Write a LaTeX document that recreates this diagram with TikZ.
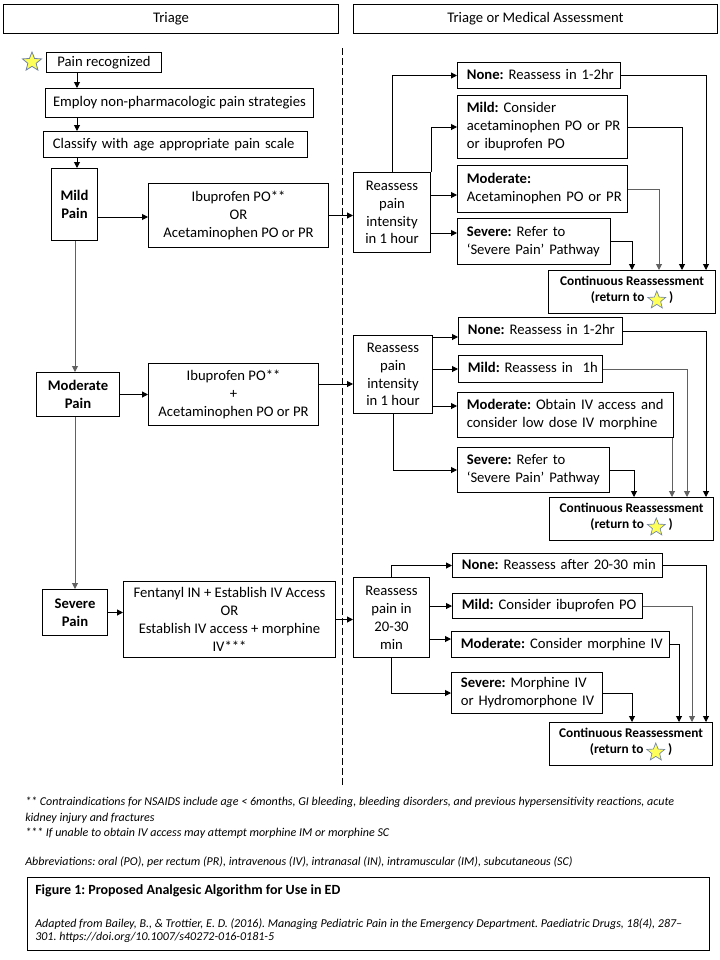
\documentclass[tikz,border=0pt]{standalone}
\usepackage{fontspec}
\setmainfont{Carlito}
\usetikzlibrary{shapes.geometric,arrows.meta}
\definecolor{starline}{RGB}{110,130,165}
\definecolor{staryellow}{RGB}{255,255,90}
\newcommand{\ystar}{\tikz[baseline=-0.8ex]\node[star,star points=5,star point ratio=2.3,fill=staryellow,draw=starline,line width=0.5pt,inner sep=0pt,minimum size=14pt]{};}
\newcommand{\lcell}[1]{\begin{tabular}{@{}l@{}}#1\end{tabular}}
\frenchspacing
\begin{document}
\begin{tikzpicture}[x=0.75pt,y=-0.75pt,
  font=\fontsize{11}{13.4}\selectfont,
  box/.style 2 args={draw, line width=0.75pt, anchor=north west, minimum width=#1*0.75pt, minimum height=#2*0.75pt, inner sep=0pt, align=center},
  lbox/.style 2 args={draw, line width=0.75pt, anchor=north west, minimum width=#1*0.75pt,
     /utils/exec={\pgfmathsetlengthmacro\lboxtw{#1*0.75pt-14pt}}, text width=\lboxtw,
     minimum height=#2*0.75pt, inner xsep=7pt, inner ysep=0pt},
  cbox/.style 2 args={box={#1}{#2}, font=\fontsize{10}{12.6}\selectfont\bfseries},
  conn/.style={line width=0.75pt, -{Triangle[length=4.5pt,width=4.5pt]}},
  gconn/.style={conn, draw=black!62},
  fn/.style={anchor=west, inner sep=0pt, align=left, font=\fontsize{9}{11.6}\selectfont\itshape},
  bigstar/.style={star, star points=5, star point ratio=2.3, fill=staryellow, draw=starline, line width=0.6pt, inner sep=0pt, minimum size=15pt}
]
\useasboundingbox (0,0) rectangle (720,960);

% headers
\node[box={335}{29}] (h1) at (3,4) {Triage};
\node[box={364}{29}] (h2) at (353,4) {Triage or Medical Assessment};

% dashed divider
\coordinate (dtop) at (342,48);
\coordinate (dbot) at (342,787);
\draw[line width=0.75pt, dash pattern=on 5pt off 2.5pt] (dtop) -- (dbot);

% left column
\node[bigstar] (st) at (32,62) {};
\node[box={115}{20}] (pr) at (46,52) {Pain recognized};
\node[box={268}{29}] (emp) at (45,88) {Employ non-pharmacologic pain strategies};
\node[lbox={264}{26}] (cls) at (43,131) {\lcell{Classify with age appropriate pain scale}};
\node[box={46}{72}, font=\fontsize{11}{13.4}\selectfont\bfseries] (mild) at (51,168) {Mild\\Pain};
\node[box={180}{64}] (d1) at (148,183) {Ibuprofen PO**\\OR\\Acetaminophen PO or PR};
\node[box={83}{44}, font=\fontsize{11}{13.4}\selectfont\bfseries] (mod) at (36,372) {Moderate\\Pain};
\node[box={170}{62}] (d2) at (148,363) {Ibuprofen PO**\\+\\Acetaminophen PO or PR};
\node[box={65}{46}, font=\fontsize{11}{13.4}\selectfont\bfseries] (sev) at (42,589) {Severe\\Pain};
\node[box={212}{76}] (d3) at (123,581) {Fentanyl IN + Establish IV Access\\OR\\ Establish IV access + morphine\\IV***};

\draw[conn] (77,0 |- pr.south) -- (77,0 |- emp.north);
\draw[conn] (77,0 |- emp.south) -- (77,0 |- cls.north);
\draw[conn] (77,0 |- cls.south) -- (77,0 |- mild.north);
\draw[conn] (mild.east |- 0,217) -- (d1.west |- 0,217);
\draw[gconn] (75,0 |- mild.south) -- (75,0 |- mod.north);
\draw[conn] (mod.east) -- (d2.west |- mod.east);
\draw[gconn] (sev.north |- mod.south) -- (sev.north);
\draw[conn] (sev.east) -- (d3.west |- sev.east);

% section 1
\node[box={77}{80}] (r1) at (353,172) {Reassess\\pain\\intensity\\in 1 hour};
\node[lbox={163}{26}] (n1) at (457,62) {\lcell{\textbf{None:} Reassess in 1-2hr}};
\node[lbox={170}{63}] (m1) at (457,95) {\lcell{\textbf{Mild:} Consider\\acetaminophen PO or PR\\or ibuprofen PO}};
\node[lbox={170}{47}] (o1) at (457,165) {\lcell{\textbf{Moderate:}\\Acetaminophen PO or PR}};
\node[lbox={153}{46}] (s1) at (457,218) {\lcell{\textbf{Severe:} Refer to\\‘Severe Pain’ Pathway}};
\node[cbox={167}{43}] (c1) at (548,270) {Continuous Reassessment\\(return to \ystar\ )};

\draw[conn] (d1.east) -- (r1.west |- d1.east);
\draw[conn] (r1.north) |- (n1.west);
\draw[conn] (r1.north east) |- (m1.west);
\draw[conn] (r1.east |- 0,195) -- (o1.west |- 0,195);
\draw[conn] (r1.east |- 0,233) -- (s1.west |- 0,233);
\draw[conn] (n1.east) -| (c1.north -| 706,0);
\draw[conn] (m1.east) -| (c1.north -| 682,0);
\draw[gconn] (o1.east) -| (c1.north -| 659,0);
\draw[conn] (s1.east) -| (c1.north -| 632,0);

% section 2
\node[box={79}{78}] (r2) at (353,335) {Reassess\\pain\\intensity\\in 1 hour};
\node[lbox={164}{27}] (n2) at (458,317) {\lcell{\textbf{None:} Reassess in 1-2hr}};
\node[lbox={144}{27}] (m2) at (458,355) {\lcell{\textbf{Mild:} Reassess in\ \ 1h}};
\node[lbox={216}{45}] (o2) at (457,392) {\lcell{\textbf{Moderate:} Obtain IV access and\\consider low dose IV morphine}};
\node[lbox={152}{45}] (s2) at (457,447) {\lcell{\textbf{Severe:} Refer to\\‘Severe Pain’ Pathway}};
\node[cbox={164}{43}] (c2) at (549,497) {Continuous Reassessment\\(return to \ystar\ )};

\draw[conn] (d2.east |- 0,384) -- (r2.west |- 0,384);
\draw[conn] (r2.east |- 0,337) -- (n2.west |- 0,337);
\draw[conn] (r2.east |- m2.west) -- (m2.west);
\draw[conn] (r2.east |- 0,406) -- (o2.west |- 0,406);
\draw[conn] (r2.south) |- (s2.west);
\draw[conn] (n2.east) -| (c2.north -| 706,0);
\draw[gconn] (m2.east) -| (c2.north -| 687,0);
\draw[gconn] (o2.south -| 672,0) -- (c2.north -| 672,0);
\draw[conn] (s2.east) -| (c2.north -| 634,0);

% section 3
\node[box={76}{80}] (r3) at (353,577) {Reassess\\pain in\\20-30\\min};
\node[lbox={210}{24}] (n3) at (452,553) {\lcell{\textbf{None:} Reassess after 20-30 min}};
\node[lbox={190}{25}] (m3) at (452,593) {\lcell{\textbf{Mild:} Consider ibuprofen PO}};
\node[lbox={218}{26}] (o3) at (451,631) {\lcell{\textbf{Moderate:} Consider morphine IV}};
\node[lbox={151}{41}] (s3) at (451,672) {\lcell{\textbf{Severe:} Morphine IV\\or Hydromorphone IV}};
\node[cbox={163}{43}] (c3) at (549,722) {Continuous Reassessment\\(return to \ystar\ )};

\draw[conn] (d3.east) -- (r3.west |- d3.east);
\draw[conn] (r3.north) |- (n3.west);
\draw[conn] (r3.east |- m3.west) -- (m3.west);
\draw[conn] (r3.east |- 0,639) -- (o3.west |- 0,639);
\draw[conn] (r3.south) |- (s3.west);
\draw[conn] (n3.east) -| (c3.north -| 706,0);
\draw[gconn] (m3.east) -| (c3.north -| 692,0);
\draw[conn] (o3.east) -| (c3.north -| 679,0);
\draw[conn] (s3.east) -| (c3.north -| 632,0);

% footnotes
\node[fn, anchor=north west] (fn1) at (25,797) {** Contraindications for NSAIDS include age < 6months, GI bleeding, bleeding disorders, and previous hypersensitivity reactions, acute\\kidney injury and fractures\\*** If unable to obtain IV access may attempt morphine IM or morphine SC};
\node[fn] (abbr) at (25,862) {Abbreviations: oral (PO), per rectum (PR), intravenous (IV), intranasal (IN), intramuscular (IM), subcutaneous (SC)};

\node[draw, line width=0.75pt, anchor=north west, minimum width=682*0.75pt, minimum height=73*0.75pt, inner sep=0pt] (fig) at (27,877) {};
\node[anchor=west, inner sep=0pt, font=\fontsize{10.5}{12.8}\selectfont\bfseries] (figt) at (35,891) {Figure 1: Proposed Analgesic Algorithm for Use in ED};
\node[fn, anchor=north west, font=\fontsize{9}{9.8}\selectfont\itshape] (src) at (35,918) {Adapted from Bailey, B., \& Trottier, E. D. (2016). Managing Pediatric Pain in the Emergency Department. Paediatric Drugs, 18(4), 287–\\301. https://doi.org/10.1007/s40272-016-0181-5};
\end{tikzpicture}
\end{document}
